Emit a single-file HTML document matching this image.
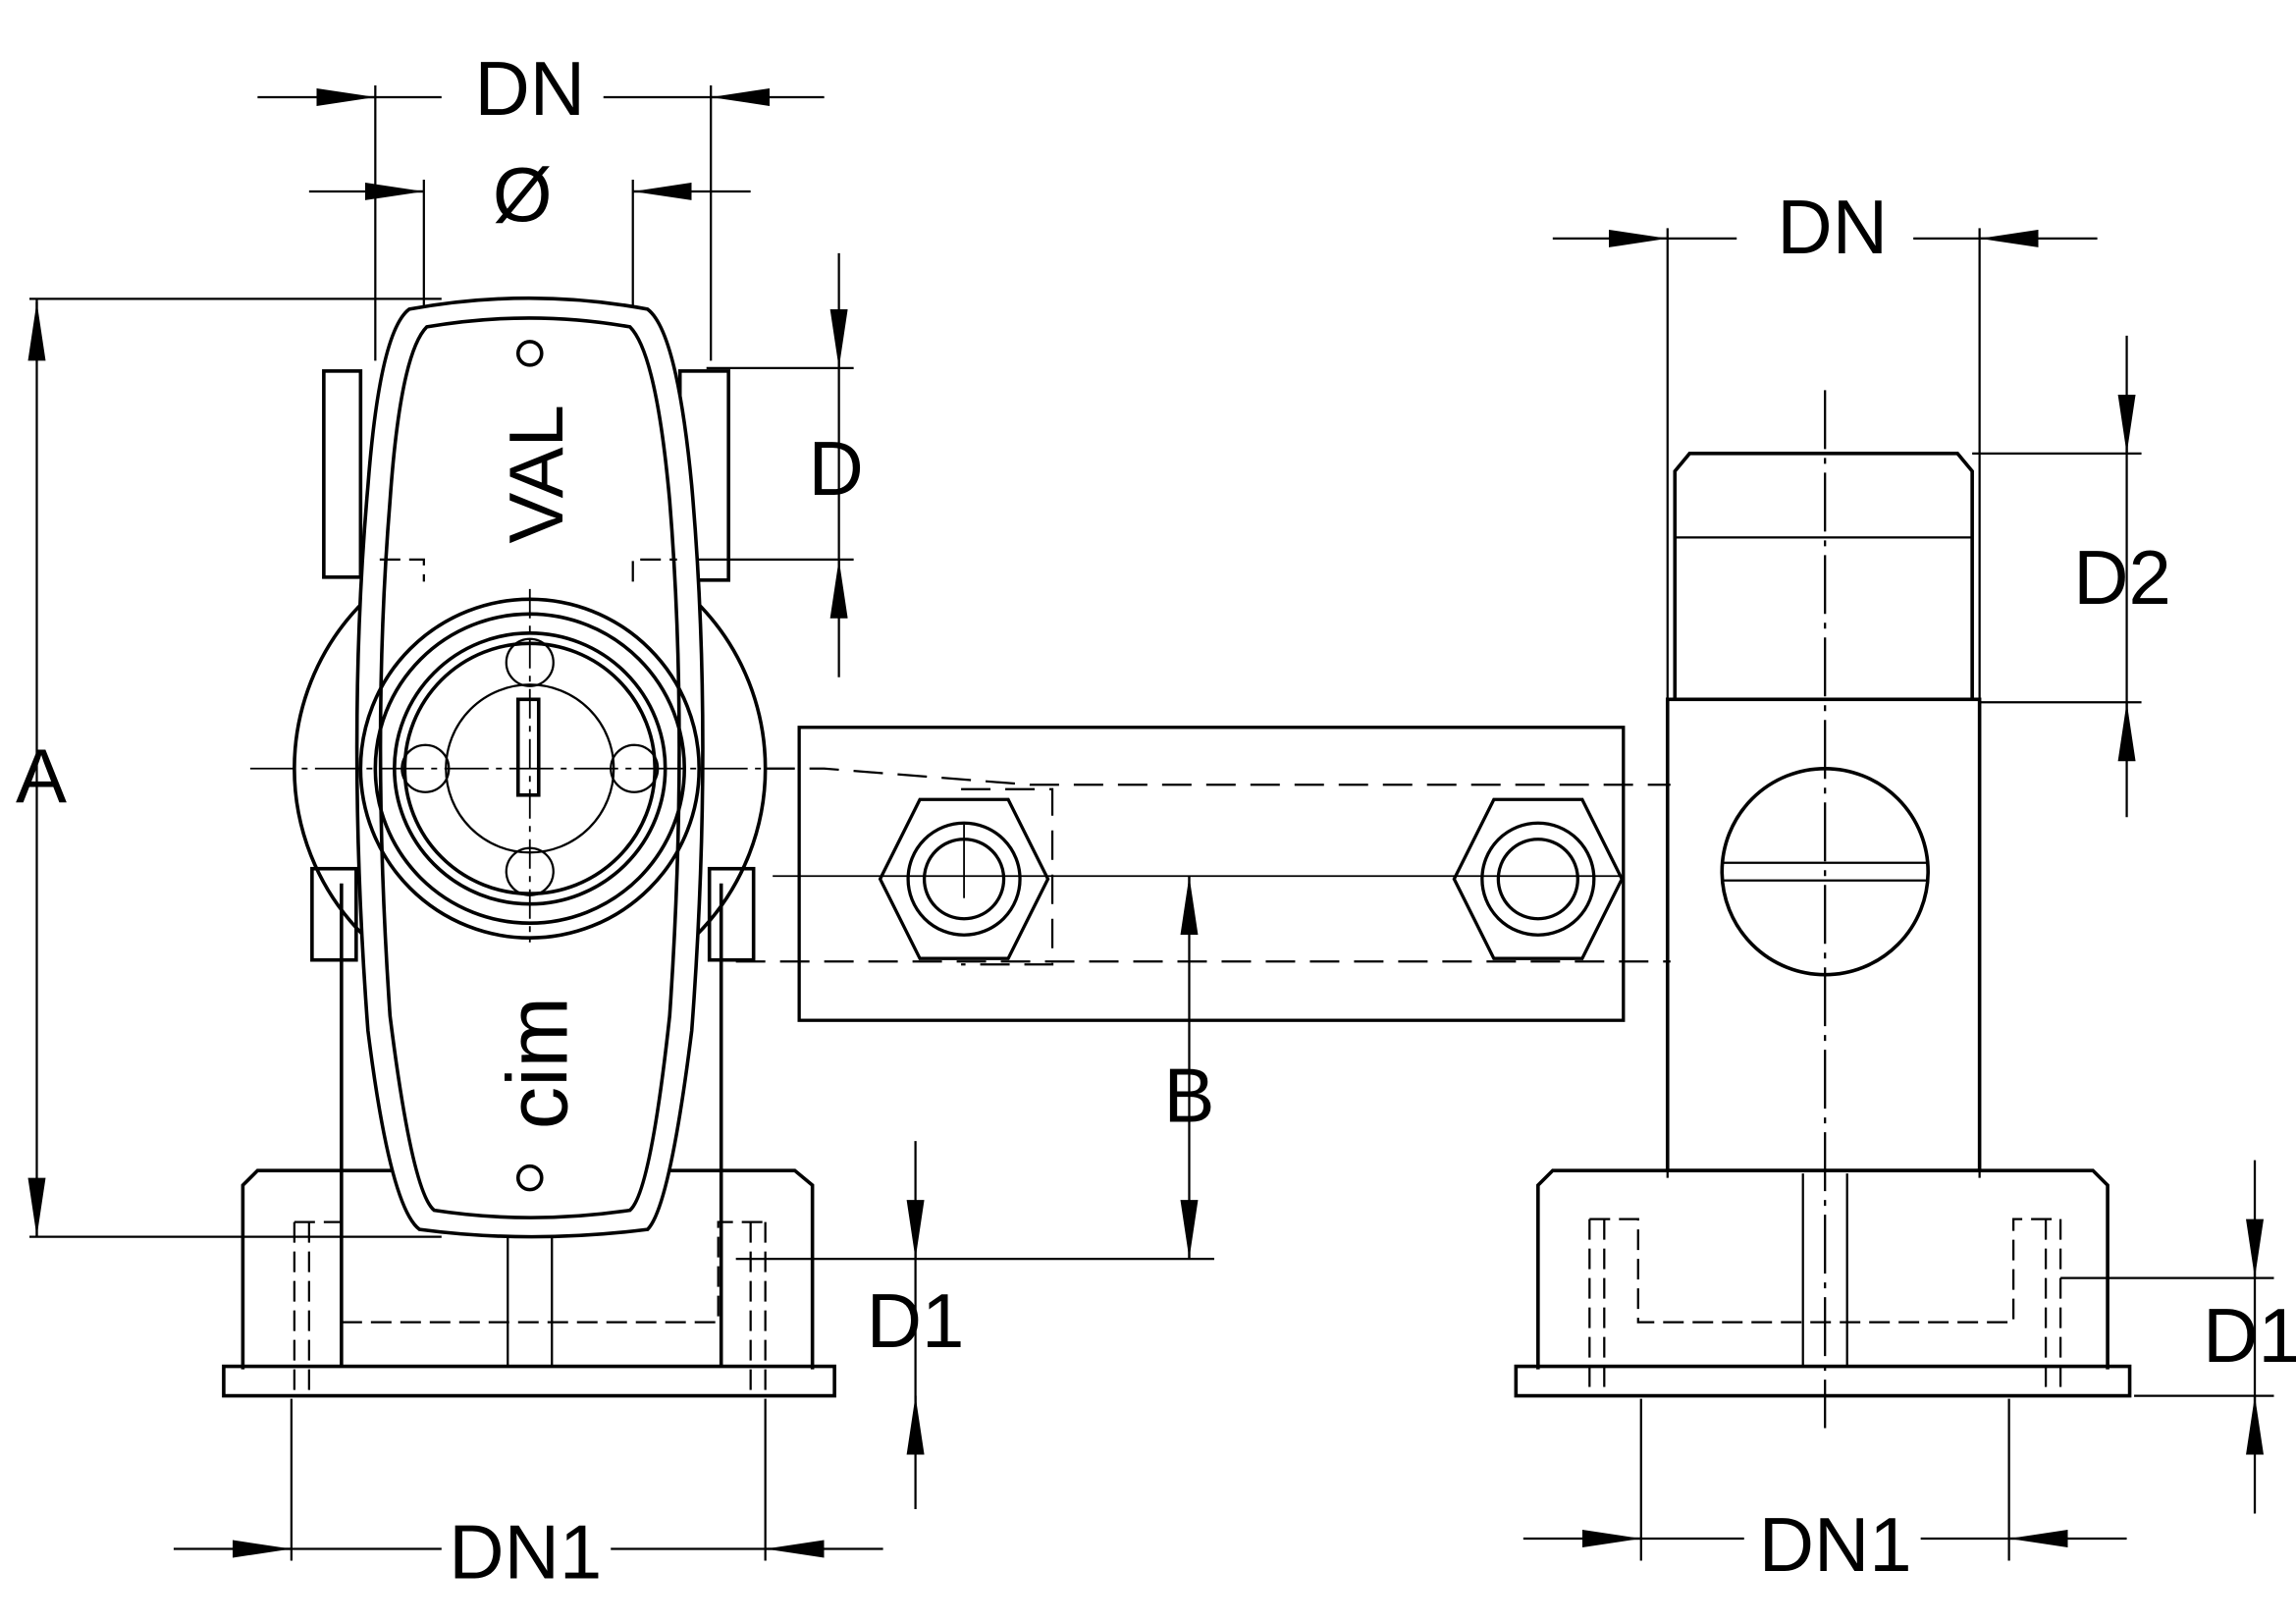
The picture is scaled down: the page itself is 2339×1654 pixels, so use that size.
<!DOCTYPE html>
<html><head><style>html,body{margin:0;padding:0;background:#fff}svg{display:block}</style></head>
<body>
<svg width="2339" height="1654" viewBox="0 0 1560 1103" preserveAspectRatio="none" xmlns="http://www.w3.org/2000/svg">
<defs>
<marker id="a" viewBox="0 0 40 12" refX="40" refY="6" markerWidth="40" markerHeight="12" markerUnits="userSpaceOnUse" orient="auto"><path d="M0,0 L40,6 L0,12 Z" fill="#000"/></marker>
</defs>
<g fill="none" stroke="#000" stroke-width="1.5">
<line x1="255" y1="58" x2="255" y2="245"/><line x1="483" y1="58" x2="483" y2="245"/>
<line x1="288" y1="122" x2="288" y2="380"/><line x1="430" y1="122" x2="430" y2="380"/>
<line x1="175" y1="66" x2="300" y2="66"/><line x1="410" y1="66" x2="560" y2="66"/>
<line x1="210" y1="130" x2="288" y2="130"/><line x1="430" y1="130" x2="510" y2="130"/>
<line x1="20" y1="203" x2="300" y2="203"/><line x1="20" y1="840" x2="300" y2="840"/>
<line x1="25" y1="203" x2="25" y2="840"/>
<line x1="480" y1="250" x2="580" y2="250"/><line x1="430" y1="380" x2="580" y2="380"/>
<line x1="570" y1="172" x2="570" y2="460"/>
<line x1="500" y1="855" x2="825" y2="855"/>
<line x1="622" y1="775" x2="622" y2="1025"/>
<line x1="808" y1="595" x2="808" y2="855"/>
<line x1="198" y1="950" x2="198" y2="1060"/><line x1="520" y1="950" x2="520" y2="1060"/>
<line x1="118" y1="1052" x2="300" y2="1052"/><line x1="415" y1="1052" x2="600" y2="1052"/>
<line x1="1133" y1="155" x2="1133" y2="800"/><line x1="1345" y1="155" x2="1345" y2="800"/>
<line x1="1055" y1="162" x2="1180" y2="162"/><line x1="1300" y1="162" x2="1425" y2="162"/>
<line x1="1340" y1="308" x2="1455" y2="308"/><line x1="1345" y1="477" x2="1455" y2="477"/>
<line x1="1445" y1="228" x2="1445" y2="555"/>
<line x1="1400" y1="868" x2="1545" y2="868"/><line x1="1450" y1="948" x2="1545" y2="948"/>
<line x1="1532" y1="788" x2="1532" y2="1028"/>
<line x1="1115" y1="950" x2="1115" y2="1060"/><line x1="1365" y1="950" x2="1365" y2="1060"/>
<line x1="1035" y1="1045" x2="1185" y2="1045"/><line x1="1305" y1="1045" x2="1445" y2="1045"/>
<line x1="1240" y1="265" x2="1240" y2="970" stroke-dasharray="40,6,4,6"/>
</g>
<g stroke="#000" stroke-width="1.5">
<line x1="215" y1="66" x2="255" y2="66" marker-end="url(#a)"/>
<line x1="523" y1="66" x2="483" y2="66" marker-end="url(#a)"/>
<line x1="248" y1="130" x2="288" y2="130" marker-end="url(#a)"/>
<line x1="470" y1="130" x2="430" y2="130" marker-end="url(#a)"/>
<line x1="25" y1="245" x2="25" y2="205" marker-end="url(#a)"/>
<line x1="25" y1="800" x2="25" y2="840" marker-end="url(#a)"/>
<line x1="570" y1="210" x2="570" y2="250" marker-end="url(#a)"/>
<line x1="570" y1="420" x2="570" y2="380" marker-end="url(#a)"/>
<line x1="622" y1="815" x2="622" y2="855" marker-end="url(#a)"/>
<line x1="622" y1="988" x2="622" y2="948" marker-end="url(#a)"/>
<line x1="808" y1="635" x2="808" y2="595" marker-end="url(#a)"/>
<line x1="808" y1="815" x2="808" y2="855" marker-end="url(#a)"/>
<line x1="158" y1="1052" x2="198" y2="1052" marker-end="url(#a)"/>
<line x1="560" y1="1052" x2="520" y2="1052" marker-end="url(#a)"/>
<line x1="1093" y1="162" x2="1133" y2="162" marker-end="url(#a)"/>
<line x1="1385" y1="162" x2="1345" y2="162" marker-end="url(#a)"/>
<line x1="1445" y1="268" x2="1445" y2="308" marker-end="url(#a)"/>
<line x1="1445" y1="517" x2="1445" y2="477" marker-end="url(#a)"/>
<line x1="1532" y1="828" x2="1532" y2="868" marker-end="url(#a)"/>
<line x1="1532" y1="988" x2="1532" y2="948" marker-end="url(#a)"/>
<line x1="1075" y1="1045" x2="1115" y2="1045" marker-end="url(#a)"/>
<line x1="1405" y1="1045" x2="1365" y2="1045" marker-end="url(#a)"/>
</g>
<g fill="none" stroke="#000" stroke-width="2.4">
<rect x="152" y="928" width="415" height="20"/>
<path d="M165,930 L165,805 L175,795 L540,795 L552,805 L552,930"/>
<line x1="232" y1="600" x2="232" y2="928"/><line x1="490" y1="600" x2="490" y2="928"/>
<rect x="220" y="252" width="25" height="140"/><rect x="462" y="252" width="33" height="142"/>
<rect x="212" y="590" width="30" height="62"/><rect x="482" y="590" width="30" height="62"/>
<circle cx="360" cy="522" r="160"/>
<path d="M278,210 Q360,195 440,210 Q460,225 470,330 Q485,500 470,700 Q455,820 440,835 Q360,845 285,835 Q265,820 250,700 Q235,500 250,330 Q258,225 278,210 Z" fill="#fff"/>
<path d="M290,222 Q360,210 428,222 Q446,240 455,340 Q468,500 455,690 Q442,810 428,822 Q360,832 295,822 Q280,810 265,690 Q252,500 265,340 Q272,240 290,222 Z"/>
<circle cx="360" cy="522" r="115"/><circle cx="360" cy="522" r="105"/>
<circle cx="360" cy="522" r="92"/><circle cx="360" cy="522" r="85"/>
<circle cx="360" cy="522" r="57" stroke-width="1.5"/>
<circle cx="360" cy="450" r="16" stroke-width="1.5"/><circle cx="360" cy="592" r="16" stroke-width="1.5"/>
<circle cx="289" cy="522" r="16" stroke-width="1.5"/><circle cx="431" cy="522" r="16" stroke-width="1.5"/>
<rect x="352" y="475" width="14" height="65"/>
<circle cx="360" cy="240" r="8"/><circle cx="360" cy="800" r="8"/>
<line x1="345" y1="840" x2="345" y2="928" stroke-width="1.5"/><line x1="375" y1="840" x2="375" y2="928" stroke-width="1.5"/>
</g>
<g fill="none" stroke="#000" stroke-width="1.5" stroke-dasharray="14,6">
<path d="M258,380 L288,380 L288,395 M430,395 L430,380 L460,380"/>
<path d="M200,830 L232,830 L232,898 L488,898 L488,830 L520,830"/>
<line x1="200" y1="830" x2="200" y2="948"/><line x1="520" y1="830" x2="520" y2="948"/>
<line x1="210" y1="830" x2="210" y2="948"/><line x1="510" y1="830" x2="510" y2="948"/>
</g>
<line x1="170" y1="522" x2="540" y2="522" stroke="#000" stroke-width="1.2" stroke-dasharray="30,5,4,5"/>
<line x1="360" y1="400" x2="360" y2="640" stroke="#000" stroke-width="1.2" stroke-dasharray="20,5,4,5"/>
<g fill="none" stroke="#000" stroke-width="2.2">
<rect x="543" y="494" width="560" height="199"/>
<polygon points="598,597 625,543 685,543 712,597 685,651 625,651"/>
<circle cx="655" cy="597" r="38"/><circle cx="655" cy="597" r="27"/>
<polygon points="988,597 1015,543 1075,543 1102,597 1075,651 1015,651"/>
<circle cx="1045" cy="597" r="38"/><circle cx="1045" cy="597" r="27"/>
</g>
<g fill="none" stroke="#000" stroke-width="1.5" stroke-dasharray="20,10">
<path d="M520,522 L560,522 L700,533 L1135,533"/>
<line x1="500" y1="653" x2="1135" y2="653"/>
<path d="M653,536 L715,536 L715,655 L653,655"/>
</g>
<line x1="525" y1="595" x2="1103" y2="595" stroke="#000" stroke-width="1.2"/>
<line x1="655" y1="560" x2="655" y2="610" stroke="#000" stroke-width="1.2"/>
<g fill="none" stroke="#000" stroke-width="2.4">
<path d="M1138,475 L1138,320 L1148,308 L1330,308 L1340,320 L1340,475"/>
<line x1="1138" y1="365" x2="1340" y2="365" stroke-width="1.5"/>
<rect x="1133" y="475" width="212" height="320"/>
<circle cx="1240" cy="592" r="70"/>
<rect x="1170" y="586" width="140" height="12" stroke-width="1.5"/>
<rect x="1030" y="928" width="417" height="20"/>
<path d="M1045,930 L1045,805 L1055,795 L1422,795 L1432,805 L1432,930"/>
<line x1="1225" y1="797" x2="1225" y2="928" stroke-width="1.5"/><line x1="1255" y1="797" x2="1255" y2="928" stroke-width="1.5"/>
</g>
<g fill="none" stroke="#000" stroke-width="1.5" stroke-dasharray="14,6">
<path d="M1080,828 L1113,828 L1113,898 L1368,898 L1368,828 L1400,828"/>
<line x1="1080" y1="828" x2="1080" y2="948"/><line x1="1400" y1="828" x2="1400" y2="948"/>
<line x1="1090" y1="828" x2="1090" y2="948"/><line x1="1390" y1="828" x2="1390" y2="948"/>
</g>
<g font-family="Liberation Sans, sans-serif" font-size="52" fill="#000" text-anchor="middle">
<text x="360" y="78">DN</text>
<text x="355" y="150">Ø</text>
<text x="28" y="545">A</text>
<text x="568" y="336">D</text>
<text x="622" y="915">D1</text>
<text x="808" y="762">B</text>
<text x="357" y="1072">DN1</text>
<text x="1245" y="172">DN</text>
<text x="1442" y="410">D2</text>
<text x="1530" y="925">D1</text>
<text x="1247" y="1067">DN1</text>
<text transform="translate(382,322) rotate(-90)" font-size="52">VAL</text>
<text transform="translate(385,722) rotate(-90)" font-size="58">cim</text>
</g>
</svg>
</body></html>
